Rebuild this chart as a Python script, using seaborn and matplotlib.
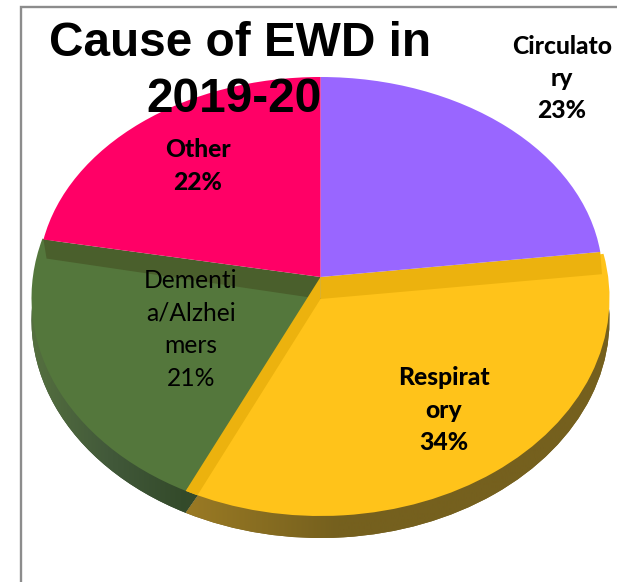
import numpy as np
import matplotlib
matplotlib.use("Agg")
import matplotlib.pyplot as plt
from matplotlib.colors import to_rgb
from matplotlib.patches import Polygon
from matplotlib.transforms import Affine2D
import seaborn as sns

causes = ["Circulatory", "Respiratory", "Dementia/Alzheimers", "Other"]
shares = [23, 34, 21, 22]
label_lines = ["Circulato\nry\n23%", "Respirat\nory\n34%", "Dementi\na/Alzhei\nmers\n21%", "Other\n22%"]
title_lines = ["Cause of EWD in", "2019-20"]

top_colors = ["#9966FF", "#FFC31A", "#54773C", "#FF0066"]
wall_yellow = "#ECB20E"
wall_green = "#4A5F2C"

sns.set_theme(style="white")
fig = plt.figure(figsize=(6.17, 5.82), dpi=100)
ax = fig.add_axes([0, 0, 1, 1])

CX = 320.5
FRONT_RX, FRONT_Y, FRONT_R = 289, 298, 218
BACK_RX, BACK_Y, BACK_R = 282, 277, 200
DEPTH = 22


def wedge(start, span, color, rx, cy, ry, z):
    w, _ = ax.pie([span, 360 - span], colors=[color, "none"], startangle=start, counterclock=False,
                  wedgeprops=dict(linewidth=0, zorder=z))
    w[0].set_transform(Affine2D().scale(rx, -ry).translate(CX, cy) + ax.transData)
    w[1].set_visible(False)
    return w[0]


def rim(angle, rx, cy, ry, k=1.0):
    a = np.deg2rad(angle)
    return (CX + k * rx * np.cos(a), cy - k * ry * np.sin(a))


def gradient_fill(clip, stops, x0, x1, z):
    xs = np.linspace(0, 1, 256)
    pos = [s[0] for s in stops]
    rgb = np.array([to_rgb(s[1]) for s in stops])
    img = np.stack([np.interp(xs, pos, rgb[:, i]) for i in range(3)], axis=-1)[None, :, :]
    im = ax.imshow(img, extent=(x0, x1, 582, 0), aspect="auto", zorder=z, interpolation="bilinear")
    im.set_clip_path(clip)


# slice boundaries as math angles, clockwise from 12 o'clock
edges = 90 - np.cumsum([0] + shares) * 3.6
a_circ, a_resp, a_dem = edges[1], edges[2], edges[3]

resp_rear = a_circ + 4.5
resp_front = a_resp - 2.6
dem_rear = a_dem - 5

# outer side of the two front slices
side_y = FRONT_Y + DEPTH
clip_y = wedge(resp_rear, resp_rear - resp_front, "#75601E", FRONT_RX, side_y, FRONT_R, 1)
gradient_fill(clip_y, [(0, "#9A7A24"), (0.35, "#75601E"), (1, "#75601E")], 186, 617, 1.1)
clip_g = wedge(resp_front, resp_front - dem_rear, "#344A2A", FRONT_RX, side_y, FRONT_R, 1)
gradient_fill(clip_g, [(0, "#55703F"), (0.5, "#42593A"), (1, "#334A2A")], 30, 186, 1.1)

# top faces of the two front slices
wedge(resp_rear, resp_rear - resp_front, top_colors[1], FRONT_RX, FRONT_Y, FRONT_R, 2)
wedge(resp_front, resp_front - dem_rear, top_colors[2], FRONT_RX, FRONT_Y, FRONT_R, 2)

# inner walls exposed by the lifted rear slices
apex = (CX, BACK_Y)
base = (CX, FRONT_Y + 1)
ax.add_patch(Polygon([rim(a_dem, BACK_RX, BACK_Y, BACK_R), apex, base,
                      rim(a_dem, FRONT_RX, FRONT_Y, FRONT_R, 0.965)],
                     closed=True, fc=wall_green, ec="none", zorder=3))
ax.add_patch(Polygon([rim(a_circ, BACK_RX, BACK_Y, BACK_R), apex, base,
                      rim(a_circ - 0.8, FRONT_RX, FRONT_Y, FRONT_R, 0.98)],
                     closed=True, fc=wall_yellow, ec="none", zorder=3))
ax.add_patch(Polygon([apex, rim(resp_front, FRONT_RX, FRONT_Y, FRONT_R),
                      rim(a_resp, FRONT_RX, FRONT_Y, FRONT_R), base],
                     closed=True, fc=wall_yellow, ec="none", zorder=3))

# rear slices on top
wedge(90, shares[0] * 3.6, top_colors[0], BACK_RX, BACK_Y, BACK_R, 4)
wedge(a_dem, shares[3] * 3.6, top_colors[3], BACK_RX, BACK_Y, BACK_R, 4)

ax.set_aspect("auto")
ax.set_xlim(0, 617)
ax.set_ylim(582, 0)
ax.axis("off")

# frame
ax.plot([21, 21, 617], [582, 6.5, 6.5], color="#8C8C8C", lw=1.7, zorder=1,
        solid_joinstyle="miter", clip_on=False)

# labels
lab_pos = [(562, 78.5), (444, 410), (191, 329.5), (198, 166)]
weights = [900, 900, "normal", 900]
for s, (x, y), w in zip(label_lines, lab_pos, weights):
    ax.text(x, y, s, ha="center", va="center", family="Lato", fontsize=17.7, fontweight=w,
            color="black", linespacing=1.5, zorder=6)

for s, x, y in zip(title_lines, [240.5, 234], [43, 99.5]):
    ax.text(x, y, s, ha="center", va="center", family="Liberation Sans", fontsize=34.4,
            fontweight="bold", color="black", zorder=7)

fig.savefig("out.png", dpi=100)
